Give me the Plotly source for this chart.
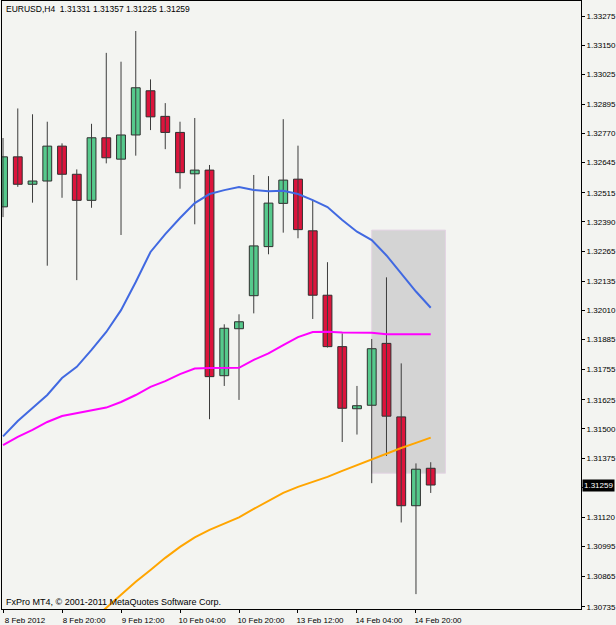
import plotly.graph_objects as go

# ---------------- data ----------------
symbol_title = "EURUSD,H4  1.31331 1.31357 1.31225 1.31259"
copyright_text = "FxPro MT4, © 2001-2011 MetaQuotes Software Corp."

bar_index = list(range(30))

opens = [1.32455, 1.32670, 1.32552, 1.32566, 1.32716, 1.32595, 1.32483, 1.32752, 1.32660, 1.32764,
         1.32954, 1.32844, 1.32775, 1.32597, 1.32613, 1.31729, 1.31931, 1.32073, 1.32284, 1.32470,
         1.32574, 1.32352, 1.32075, 1.31854, 1.31587, 1.31602, 1.31868, 1.31552, 1.31170, 1.31331]
highs = [1.32751, 1.32878, 1.32853, 1.32821, 1.32728, 1.32616, 1.32812, 1.33117, 1.33079, 1.33211,
         1.33003, 1.32901, 1.32821, 1.32837, 1.32635, 1.31950, 1.31993, 1.32592, 1.32587, 1.32832,
         1.32718, 1.32484, 1.32217, 1.31911, 1.31685, 1.31887, 1.32152, 1.31782, 1.31352, 1.31357]
lows = [1.32411, 1.32541, 1.32473, 1.32202, 1.32494, 1.32140, 1.32451, 1.32642, 1.32334, 1.32675,
        1.32785, 1.32703, 1.32533, 1.32380, 1.31542, 1.31685, 1.31625, 1.31997, 1.32251, 1.32344,
        1.32320, 1.31973, 1.31850, 1.31444, 1.31476, 1.31267, 1.31384, 1.31098, 1.30790, 1.31225]
closes = [1.32670, 1.32552, 1.32566, 1.32716, 1.32595, 1.32483, 1.32752, 1.32666, 1.32764, 1.32967,
          1.32842, 1.32775, 1.32602, 1.32613, 1.31725, 1.31933, 1.31961, 1.32287, 1.32471, 1.32570,
          1.32357, 1.32075, 1.31854, 1.31589, 1.31600, 1.31845, 1.31555, 1.31170, 1.31327, 1.31259]

ma_blue = [1.31468, 1.31534, 1.31590, 1.31646, 1.31719, 1.31767, 1.31840, 1.31917, 1.32011, 1.32132,
           1.32261, 1.32338, 1.32407, 1.32471, 1.32510, 1.32527, 1.32540, 1.32527, 1.32522, 1.32524,
           1.32510, 1.32484, 1.32454, 1.32398, 1.32348, 1.32312, 1.32246, 1.32166, 1.32091, 1.32021]
ma_magenta = [1.31431, 1.31466, 1.31496, 1.31530, 1.31556, 1.31569, 1.31582, 1.31592, 1.31616, 1.31646,
              1.31681, 1.31706, 1.31736, 1.31760, 1.31762, 1.31762, 1.31763, 1.31797, 1.31825, 1.31861,
              1.31895, 1.31917, 1.31918, 1.31915, 1.31914, 1.31914, 1.31907, 1.31907, 1.31907, 1.31907]
ma_orange = [None, None, None, None, None, None, 1.30675, 1.30731, 1.30791, 1.30843,
             1.30894, 1.30946, 1.30993, 1.31034, 1.31066, 1.31092, 1.31120, 1.31156, 1.31191, 1.31225,
             1.31251, 1.31272, 1.31294, 1.31320, 1.31345, 1.31371, 1.31395, 1.31418, 1.31440, 1.31463]

x_tick_index = [0, 4, 8, 12, 16, 20, 24, 28]
x_tick_labels = ["8 Feb 2012", "8 Feb 20:00", "9 Feb 12:00", "10 Feb 04:00",
                 "10 Feb 20:00", "13 Feb 12:00", "14 Feb 04:00", "14 Feb 20:00"]

y_tick_values = [1.33275, 1.33150, 1.33025, 1.32895, 1.32770, 1.32645, 1.32515, 1.32390, 1.32265,
                 1.32135, 1.32010, 1.31885, 1.31755, 1.31625, 1.31500, 1.31375, 1.31250, 1.31120,
                 1.30995, 1.30865, 1.30735]

current_price = 1.31259

# highlighted zone (bar index / price)
zone_bars = [25.0, 30.0]
zone_prices = [1.31310, 1.32355]

# ---------------- styles ----------------
BG = "#f3f4f1"
BULL = "#56c98c"
BEAR = "#dc143c"
OUTLINE = "#2e2e2e"
WICK = "#3c3c3c"
FONT = "Liberation Sans, Arial, sans-serif"

fig = go.Figure()

# zone rectangle (below traces)
fig.add_shape(type="rect", xref="x", yref="y",
              x0=zone_bars[0], x1=zone_bars[1], y0=zone_prices[0], y1=zone_prices[1],
              fillcolor="#d4d4d4", line=dict(color="#e4d4e4", width=1), layer="below")

# wicks
wx, wy = [], []
for i, h, l in zip(bar_index, highs, lows):
    wx += [i, i, None]
    wy += [l, h, None]
fig.add_trace(go.Scatter(x=wx, y=wy, mode="lines", line=dict(color=WICK, width=1),
                         hoverinfo="skip", showlegend=False))

# bodies
for bull in (True, False):
    xs, bases, hts = [], [], []
    for i, o, c in zip(bar_index, opens, closes):
        if (c >= o) == bull:
            xs.append(i)
            bases.append(min(o, c))
            hts.append(abs(c - o))
    fig.add_trace(go.Bar(x=xs, y=hts, base=bases, width=0.6,
                         marker=dict(color=BULL if bull else BEAR,
                                     line=dict(color=OUTLINE, width=1)),
                         showlegend=False, hoverinfo="skip"))

# moving averages
for vals, col in ((ma_orange, "#ffa500"), (ma_magenta, "#ff00ff"), (ma_blue, "#4169e1")):
    fig.add_trace(go.Scatter(x=bar_index, y=vals, mode="lines",
                             line=dict(color=col, width=2), showlegend=False, hoverinfo="skip"))

# the tick label hidden under the current-price box is left blank
y_tick_text = ["" if abs(v - current_price) < 0.0001 else f"{v:.5f}" for v in y_tick_values]

fig.update_layout(
    template="none",
    width=616, height=625,
    margin=dict(l=2, r=35, t=1, b=16, autoexpand=False),
    paper_bgcolor=BG, plot_bgcolor=BG,
    barmode="overlay",
    showlegend=False,
    font=dict(family=FONT, size=8, color="#000000"),
    xaxis=dict(range=[-0.07, 39.19], showgrid=False, zeroline=False,
               showline=True, linecolor="#000000", linewidth=1, mirror=True,
               ticks="outside", ticklen=3, tickcolor="#000000", tickwidth=1,
               tickvals=x_tick_index, ticktext=x_tick_labels, ticklabelshift=22,
               tickfont=dict(family=FONT, size=8, color="#000000"), automargin=False),
    yaxis=dict(range=[1.30726, 1.33340], side="right", showgrid=False, zeroline=False,
               showline=True, linecolor="#000000", linewidth=1, mirror=True,
               ticks="outside", ticklen=3, tickcolor="#000000", tickwidth=1,
               tickvals=y_tick_values, ticktext=y_tick_text,
               tickfont=dict(family=FONT, size=8, color="#000000"), automargin=False),
    annotations=[
        dict(text=symbol_title, xref="paper", yref="paper", x=0, y=1, xanchor="left", yanchor="top",
             xshift=2, yshift=-1, showarrow=False, font=dict(family=FONT, size=8.5, color="#000000")),
        dict(text=copyright_text, xref="paper", yref="paper", x=0, y=0, xanchor="left", yanchor="bottom",
             xshift=2, yshift=0, showarrow=False, font=dict(family=FONT, size=9, color="#000000")),
        dict(text=f"{current_price:.5f}", xref="paper", yref="y", x=1, y=current_price,
             xanchor="left", yanchor="middle", xshift=1, showarrow=False, bgcolor="#000000",
             borderpad=1, font=dict(family=FONT, size=8, color="#ffffff")),
    ],
)

fig.write_html("out.html", config={"displayModeBar": False})
